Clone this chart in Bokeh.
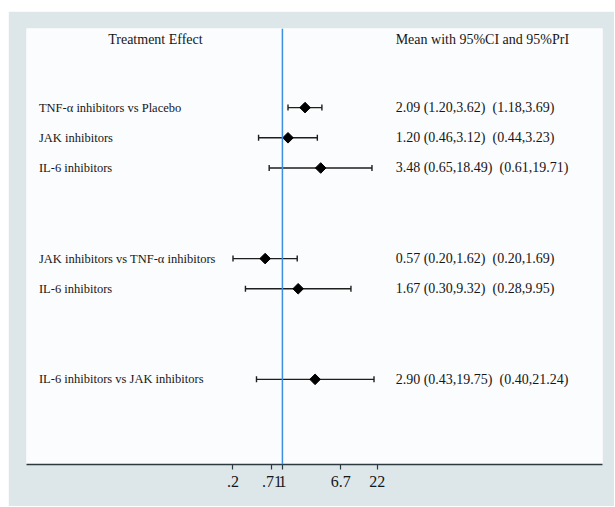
import math
from bokeh.plotting import figure
from bokeh.layouts import column, row
from bokeh.models import Range1d, FixedTicker, Span, Whisker, ColumnDataSource, TeeHead, Spacer
from bokeh.core.properties import value
from bokeh.embed import file_html
from bokeh.resources import INLINE

# ---- data ----
labels = ["TNF-\u03b1 inhibitors vs Placebo", "JAK inhibitors", "IL-6 inhibitors",
          "JAK inhibitors vs TNF-\u03b1 inhibitors", "IL-6 inhibitors",
          "IL-6 inhibitors vs JAK inhibitors"]
rows = [0, 1, 2, 5, 6, 9]
mean = [2.09, 1.20, 3.48, 0.57, 1.67, 2.90]
ci_low = [1.20, 0.46, 0.65, 0.20, 0.30, 0.43]
ci_high = [3.62, 3.12, 18.49, 1.62, 9.32, 19.75]
pri_low = [1.18, 0.44, 0.61, 0.20, 0.28, 0.40]
pri_high = [3.69, 3.23, 19.71, 1.69, 9.95, 21.24]
tick_values = [0.2, 0.71, 1, 6.7, 22]
tick_labels = [".2", ".71", "1", "6.7", "22"]
header_left = "Treatment Effect"
header_right = "Mean with 95%CI and 95%PrI"

# ---- layout constants (data space of the log axis) ----
X_MIN, X_MAX = 2.4e-4, 3.37e4
LEFT_X = 3.6e-4
LEFT_HEAD_X = 0.016
RIGHT_X = 40.0
HEAD_ROW = -2.25
FONT = "Liberation Serif"
TXT = "#161616"

stats = [f"{m:.2f} ({l:.2f},{h:.2f})\u00a0 ({pl:.2f},{ph:.2f})"
         for m, l, h, pl, ph in zip(mean, ci_low, ci_high, pri_low, pri_high)]

src = ColumnDataSource(dict(label=labels, row=rows, mean=mean, lo=ci_low, hi=ci_high,
                            stat=stats, lx=[LEFT_X] * len(rows), rx=[RIGHT_X] * len(rows)))

p = figure(x_axis_type="log", x_range=Range1d(X_MIN, X_MAX), y_range=Range1d(11.82, -2.62),
           frame_width=576, frame_height=436, min_border_left=18, min_border_right=12,
           min_border_top=17, min_border_bottom=42,
           output_backend="svg", toolbar_location=None,
           background_fill_color="#fbfcfd", border_fill_color="#dde7ea")
p.outline_line_color = None
p.xgrid.visible = False
p.ygrid.visible = False
p.yaxis.visible = False

ax = p.xaxis[0]
ax.ticker = FixedTicker(ticks=tick_values)
ax.major_label_overrides = {v: t for v, t in zip(tick_values, tick_labels)}
ax.minor_tick_line_color = None
ax.axis_line_color = "#2c3a40"
ax.axis_line_width = 1.6
ax.major_tick_line_color = "#2c3a40"
ax.major_tick_line_width = 1.2
ax.major_tick_out = 5
ax.major_tick_in = 0
ax.major_label_standoff = 6
ax.major_label_text_font = FONT
ax.major_label_text_font_size = "16px"
ax.major_label_text_color = TXT

# reference line at 1
p.add_layout(Span(location=1, dimension="height", line_color="#3d8fe0", line_width=1.5))

# CI whiskers
p.add_layout(Whisker(source=src, base="row", lower="lo", upper="hi", dimension="width",
                     line_color="#1e1e1e", line_width=1.4,
                     lower_head=TeeHead(size=6, line_color="#1e1e1e", line_width=1.4),
                     upper_head=TeeHead(size=6, line_color="#1e1e1e", line_width=1.4)))
p.scatter(x="mean", y="row", source=src, marker="square", angle=math.pi / 4, size=7.5,
          fill_color="black", line_color="black")

# texts
p.text(x="lx", y="row", text="label", source=src, text_font=value(FONT),
       text_font_size="12.5px", text_color=TXT, text_baseline="middle", text_align="left")
p.text(x="rx", y="row", text="stat", source=src, text_font=value(FONT),
       text_font_size="14px", text_color=TXT, text_baseline="middle", text_align="left")
p.text(x=[LEFT_HEAD_X], y=[HEAD_ROW], text=[header_left], text_font=value(FONT),
       text_font_size="14px", text_color=TXT, text_baseline="middle", text_align="center")
p.text(x=[RIGHT_X], y=[HEAD_ROW], text=[header_right], text_font=value(FONT),
       text_font_size="14px", text_color=TXT, text_baseline="middle", text_align="left")

layout = column(Spacer(height=11, width=606),
                row(Spacer(width=8, height=495), p, spacing=0), spacing=0)

open("out.html", "w").write(file_html(layout, INLINE))
